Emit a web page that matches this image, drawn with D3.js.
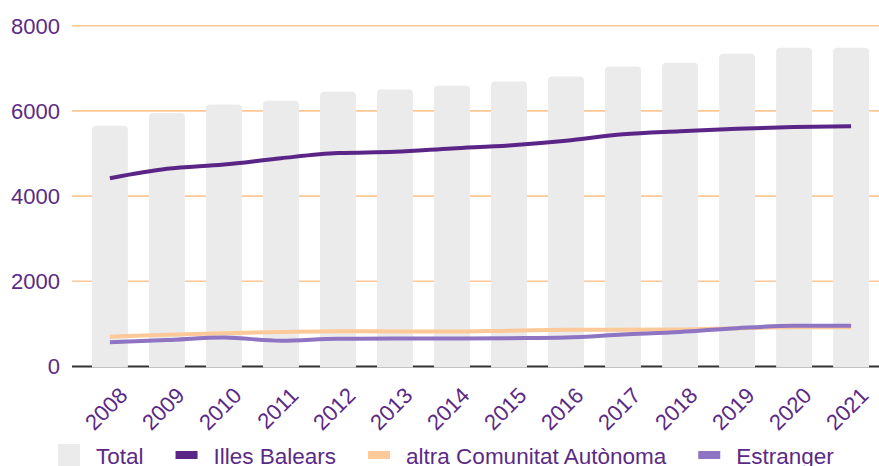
<!DOCTYPE html>
<html>
<head>
<meta charset="utf-8">
<script src="https://cdn.jsdelivr.net/npm/d3@7"></script>
<style>
  body { margin: 0; background: #fff; }
  svg { display: block; font-family: "Liberation Sans", Arial, sans-serif; }
</style>
</head>
<body>
<div id="chart"></div>
<script>
var years = ["2008", "2009", "2010", "2011", "2012", "2013", "2014", "2015", "2016", "2017", "2018", "2019", "2020", "2021"];
var total = [5650, 5950, 6150, 6240, 6450, 6500, 6590, 6690, 6810, 7040, 7130, 7340, 7480, 7480];
var illesBalears = [4420, 4640, 4740, 4890, 5010, 5040, 5120, 5190, 5300, 5450, 5520, 5580, 5620, 5640];
var altraCA = [700, 745, 780, 810, 830, 820, 820, 840, 860, 865, 870, 900, 920, 920];
var estranger = [570, 620, 680, 605, 650, 655, 655, 665, 680, 750, 810, 900, 955, 955];
var yTicks = [0, 2000, 4000, 6000, 8000];

var seriesNames = ["Total", "Illes Balears", "altra Comunitat Autònoma", "Estranger"];
var colors = ["#ebebeb", "#5b2487", "#fdc998", "#8e74c3"];
var textColor = "#5b2a86";

function init() {
    var w = 879, h = 466;
    var left = 72, right = 879;

    var svg = d3.select("#chart").append("svg")
        .attr("width", w)
        .attr("height", h);

    var x = d3.scaleBand()
        .domain(years)
        .range([left, 889])
        .paddingInner(0.37)
        .paddingOuter(0.35);

    var y = d3.scaleLinear()
        .domain([0, 8000])
        .range([366.5, 25.7]);

    // gridlines
    svg.append("g").selectAll("line")
        .data(yTicks)
        .enter()
        .append("line")
        .attr("x1", left)
        .attr("x2", right)
        .attr("y1", function(d) { return y(d); })
        .attr("y2", function(d) { return y(d); })
        .attr("stroke", function(d) { return d === 0 ? "#333" : "#fdc896"; })
        .attr("stroke-width", function(d) { return d === 0 ? 2 : 1.6; });

    // y labels
    svg.append("g").selectAll("text")
        .data(yTicks)
        .enter()
        .append("text")
        .attr("x", 60)
        .attr("y", function(d) { return y(d); })
        .attr("dy", "0.36em")
        .attr("text-anchor", "end")
        .attr("fill", textColor)
        .style("font-size", "22px")
        .text(function(d) { return d; });

    // bars with rounded top
    var r = 4;
    svg.append("g").selectAll("path")
        .data(total)
        .enter()
        .append("path")
        .attr("d", function(d, i) {
            var x0 = x(years[i]), bw = x.bandwidth();
            var y0 = y(d), yb = y(0) + 1;
            return "M" + x0 + "," + yb +
                "V" + (y0 + r) +
                "Q" + x0 + "," + y0 + " " + (x0 + r) + "," + y0 +
                "H" + (x0 + bw - r) +
                "Q" + (x0 + bw) + "," + y0 + " " + (x0 + bw) + "," + (y0 + r) +
                "V" + yb + "Z";
        })
        .attr("fill", colors[0]);

    // lines
    var line = d3.line()
        .x(function(d, i) { return x(years[i]) + x.bandwidth() / 2; })
        .y(function(d) { return y(d); })
        .curve(d3.curveMonotoneX);

    [altraCA, estranger, illesBalears].forEach(function(s) {
        var idx = s === illesBalears ? 1 : (s === altraCA ? 2 : 3);
        svg.append("path")
            .datum(s)
            .attr("d", line)
            .attr("fill", "none")
            .attr("stroke", colors[idx])
            .attr("stroke-width", 4);
    });

    // x labels
    svg.append("g").selectAll("text")
        .data(years)
        .enter()
        .append("text")
        .attr("transform", function(d) {
            return "translate(" + (x(d) + x.bandwidth() / 2 + 8) + ",386) rotate(-45)";
        })
        .attr("text-anchor", "end")
        .attr("dy", "0.7em")
        .attr("fill", textColor)
        .style("font-size", "22px")
        .text(function(d) { return d; });

    // legend
    var lg = svg.append("g");
    var lx = 58;
    seriesNames.forEach(function(name, i) {
        if (i === 0) {
            lg.append("rect")
                .attr("x", lx).attr("y", 444)
                .attr("width", 22).attr("height", 24)
                .attr("fill", colors[0]);
        } else {
            lg.append("rect")
                .attr("x", lx).attr("y", 451)
                .attr("width", 22).attr("height", 8)
                .attr("fill", colors[i]);
        }
        var t = lg.append("text")
            .attr("x", lx + 38)
            .attr("y", 464)
            .attr("fill", textColor)
            .style("font-size", "22.5px")
            .text(name);
        lx = lx + 38 + t.node().getComputedTextLength() + 32;
    });
}
window.onload = init;
</script>
</body>
</html>
